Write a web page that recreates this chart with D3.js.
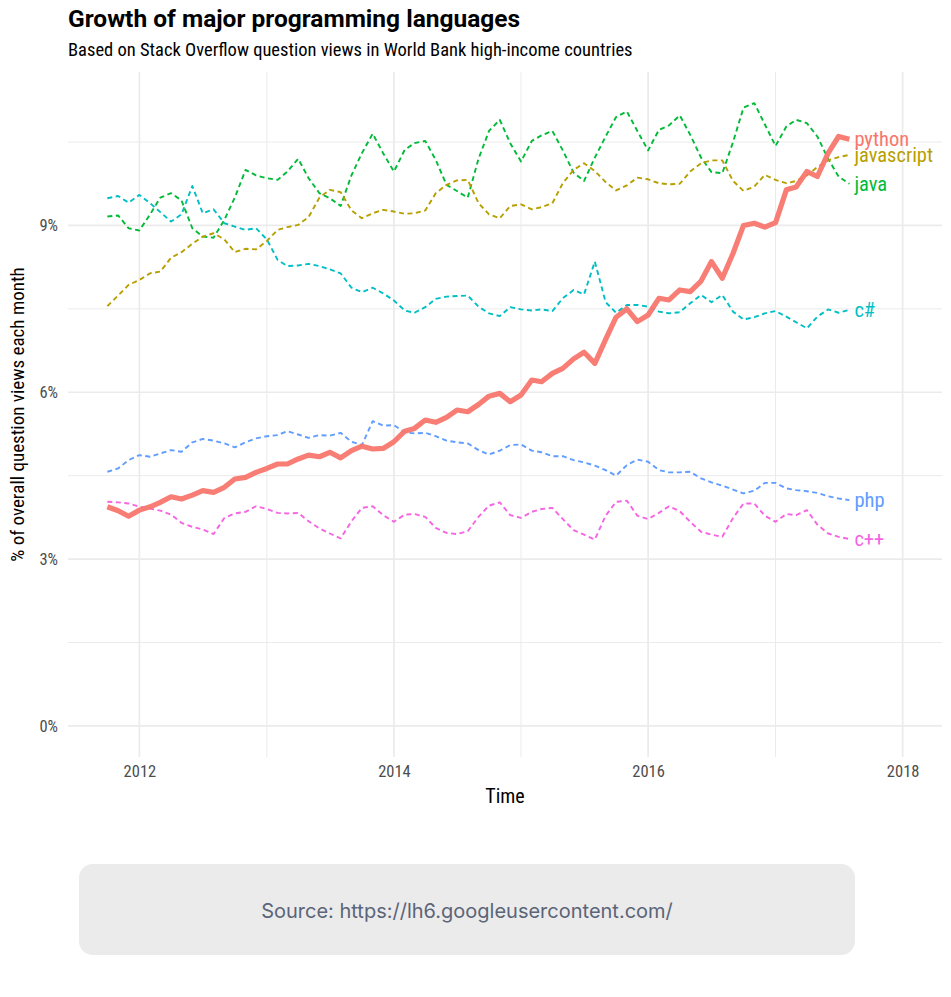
<!DOCTYPE html>
<html>
<head>
<meta charset="utf-8">
<script src="https://cdn.jsdelivr.net/npm/d3@7"></script>
<style>
  html, body { margin: 0; padding: 0; background: #ffffff; }
  svg { display: block; }
  .cond { font-family: "Roboto Condensed", "Liberation Sans Narrow", "DejaVu Sans Condensed", Roboto, sans-serif; font-stretch: condensed; }
</style>
</head>
<body>
<svg id="chart" width="951" height="997"></svg>
<script>
// ---------- data ----------
const startMonth = "2011-10-01";
const languages = ["c#", "c++", "java", "javascript", "php", "python"];
const colors = ["#00BFC4", "#F564E3", "#00BA38", "#B79F00", "#619CFF", "#F8766D"];

const python = [3.94,3.87,3.77,3.88,3.94,4.02,4.12,4.08,4.15,4.23,4.20,4.29,4.44,4.47,4.56,4.63,4.71,4.71,4.80,4.87,4.84,4.92,4.82,4.95,5.03,
  4.98,4.99,5.11,5.30,5.35,5.50,5.46,5.55,5.68,5.65,5.78,5.93,5.98,5.83,5.95,6.22,6.19,6.34,6.43,6.60,6.72,6.52,6.95,7.35,7.50,7.27,
  7.39,7.69,7.66,7.84,7.81,8.00,8.35,8.05,8.50,9.00,9.04,8.97,9.05,9.64,9.69,9.97,9.88,10.30,10.60,10.55];
const javascript = [7.55,7.74,7.93,8.02,8.14,8.17,8.42,8.52,8.67,8.80,8.86,8.75,8.52,8.58,8.57,8.72,8.92,8.97,9.01,9.15,9.50,9.64,9.60,9.27,9.13,
  9.22,9.28,9.25,9.21,9.22,9.27,9.58,9.73,9.81,9.82,9.40,9.20,9.13,9.35,9.38,9.29,9.33,9.40,9.76,10.00,10.12,9.98,9.78,9.63,9.72,9.86,
  9.83,9.76,9.74,9.75,9.97,10.12,10.17,10.17,9.80,9.62,9.70,9.91,9.82,9.76,9.80,9.90,10.05,10.17,10.23,10.27];
const java = [9.16,9.18,8.95,8.91,9.20,9.50,9.58,9.45,8.95,8.80,8.78,9.10,9.50,10.00,9.90,9.85,9.82,9.97,10.20,9.85,9.58,9.49,9.35,9.90,10.30,
  10.65,10.30,9.97,10.36,10.48,10.52,10.18,9.73,9.62,9.50,10.20,10.70,10.90,10.48,10.15,10.52,10.62,10.70,10.35,9.95,9.80,10.22,10.60,10.95,11.05,10.70,
  10.35,10.72,10.80,10.98,10.63,10.22,9.96,9.94,10.50,11.12,11.20,10.82,10.43,10.78,10.90,10.84,10.60,10.20,9.88,9.75];
const csharp = [9.49,9.53,9.41,9.55,9.40,9.24,9.07,9.20,9.71,9.22,9.29,9.04,8.98,8.92,8.95,8.75,8.38,8.27,8.28,8.31,8.27,8.21,8.14,7.88,7.80,
  7.88,7.78,7.65,7.47,7.43,7.53,7.68,7.72,7.73,7.74,7.54,7.42,7.37,7.53,7.49,7.47,7.49,7.46,7.69,7.84,7.76,8.35,7.62,7.43,7.57,7.57,
  7.54,7.45,7.42,7.44,7.60,7.75,7.62,7.75,7.45,7.31,7.35,7.42,7.46,7.36,7.26,7.15,7.36,7.49,7.43,7.48];
const php = [4.57,4.63,4.78,4.87,4.84,4.90,4.96,4.93,5.10,5.16,5.13,5.08,5.01,5.10,5.17,5.21,5.23,5.30,5.24,5.18,5.23,5.22,5.27,5.11,5.05,
  5.48,5.40,5.41,5.28,5.26,5.27,5.21,5.13,5.10,5.08,4.96,4.88,4.95,5.05,5.06,4.95,4.92,4.85,4.85,4.78,4.74,4.68,4.60,4.50,4.69,4.79,
  4.75,4.60,4.56,4.56,4.57,4.45,4.38,4.32,4.25,4.18,4.23,4.37,4.37,4.27,4.24,4.22,4.19,4.13,4.09,4.06];
const cpp = [4.03,4.02,4.00,3.94,3.91,3.87,3.80,3.65,3.58,3.53,3.45,3.74,3.82,3.85,3.95,3.90,3.83,3.82,3.83,3.68,3.55,3.46,3.37,3.68,3.92,
  3.95,3.79,3.67,3.80,3.81,3.76,3.56,3.47,3.45,3.50,3.76,3.96,4.02,3.79,3.74,3.85,3.90,3.92,3.72,3.52,3.44,3.35,3.78,4.03,4.05,3.78,
  3.72,3.83,3.95,3.86,3.67,3.49,3.44,3.40,3.74,4.00,4.00,3.78,3.67,3.81,3.79,3.88,3.62,3.46,3.40,3.36];

const seriesValues = { "c#": csharp, "c++": cpp, "java": java, "javascript": javascript, "php": php, "python": python };

const yMajorTicks = [0, 3, 6, 9];
const yMinorTicks = [1.5, 4.5, 7.5, 10.5];
const xMajorYears = [2012, 2014, 2016, 2018];
const xMinorYears = [2013, 2015, 2017];

const titleText = "Growth of major programming languages";
const subtitleText = "Based on Stack Overflow question views in World Bank high-income countries";
const xTitle = "Time";
const yTitle = "% of overall question views each month";
const sourceText = "Source: https://lh6.googleusercontent.com/";

// ---------- layout ----------
const svg = d3.select("#chart");
const panel = { left: 68, right: 942, top: 72, bottom: 757 };

const parse = d3.timeParse("%Y-%m-%d");
const months = d3.timeMonth.range(parse(startMonth), d3.timeMonth.offset(parse(startMonth), python.length));

const x = d3.scaleTime()
  .domain([new Date(2011, 5, 10), new Date(2018, 3, 24)])
  .range([panel.left, panel.right]);
const y = d3.scaleLinear()
  .domain([-0.56, 11.76])
  .range([panel.bottom, panel.top]);

// grid
const grid = svg.append("g");
grid.selectAll(".yminor").data(yMinorTicks).enter().append("line")
  .attr("x1", panel.left).attr("x2", panel.right)
  .attr("y1", d => y(d)).attr("y2", d => y(d))
  .attr("stroke", "#ebebeb").attr("stroke-width", 1);
grid.selectAll(".xminor").data(xMinorYears).enter().append("line")
  .attr("x1", d => x(new Date(d, 0, 1))).attr("x2", d => x(new Date(d, 0, 1)))
  .attr("y1", panel.top).attr("y2", panel.bottom)
  .attr("stroke", "#ebebeb").attr("stroke-width", 1);
grid.selectAll(".ymajor").data(yMajorTicks).enter().append("line")
  .attr("x1", panel.left).attr("x2", panel.right)
  .attr("y1", d => y(d)).attr("y2", d => y(d))
  .attr("stroke", "#ebebeb").attr("stroke-width", 1.7);
grid.selectAll(".xmajor").data(xMajorYears).enter().append("line")
  .attr("x1", d => x(new Date(d, 0, 1))).attr("x2", d => x(new Date(d, 0, 1)))
  .attr("y1", panel.top).attr("y2", panel.bottom)
  .attr("stroke", "#ebebeb").attr("stroke-width", 1.7);

// axes (labels only)
const yAxis = d3.axisLeft(y).tickValues(yMajorTicks).tickFormat(d => d + "%").tickSize(0).tickPadding(10);
const gy = svg.append("g").attr("transform", `translate(${panel.left},0)`).call(yAxis);
gy.select(".domain").remove();
gy.selectAll("text").attr("class", "cond").attr("font-size", 16.5).attr("fill", "#4d4d4d");

const xAxis = d3.axisBottom(x).tickValues(xMajorYears.map(d => new Date(d, 0, 1))).tickFormat(d3.timeFormat("%Y")).tickSize(0).tickPadding(8);
const gx = svg.append("g").attr("transform", `translate(0,${panel.bottom})`).call(xAxis);
gx.select(".domain").remove();
gx.selectAll("text").attr("class", "cond").attr("font-size", 16.5).attr("fill", "#4d4d4d");

// lines
const line = d3.line().x((d, i) => x(months[i])).y(d => y(d));
languages.forEach((lang, k) => {
  const isPy = lang === "python";
  svg.append("path")
    .datum(seriesValues[lang])
    .attr("d", line)
    .attr("fill", "none")
    .attr("stroke", colors[k])
    .attr("stroke-width", isPy ? 5.2 : 1.9)
    .attr("stroke-dasharray", isPy ? null : "5,3.5")
    .attr("stroke-linejoin", "round")
    .attr("opacity", isPy ? 0.95 : 1);
});

// end labels
languages.forEach((lang, k) => {
  const vals = seriesValues[lang];
  svg.append("text")
    .attr("class", "cond")
    .attr("x", x(months[vals.length - 1]) + 5)
    .attr("y", y(vals[vals.length - 1]))
    .attr("dy", "0.35em")
    .attr("font-size", 20.5)
    .attr("fill", colors[k])
    .text(lang);
});

// titles
svg.append("text").attr("x", 68).attr("y", 27)
  .attr("font-family", "Roboto, sans-serif").attr("font-weight", 700).attr("font-size", 24.5)
  .attr("fill", "#000").text(titleText);
svg.append("text").attr("class", "cond").attr("x", 68).attr("y", 56)
  .attr("font-size", 18.5).attr("fill", "#000").text(subtitleText);

svg.append("text").attr("class", "cond")
  .attr("x", (panel.left + panel.right) / 2).attr("y", 803)
  .attr("text-anchor", "middle").attr("font-size", 20).attr("fill", "#000").text(xTitle);
svg.append("text").attr("class", "cond")
  .attr("transform", `translate(24,${(panel.top + panel.bottom) / 2}) rotate(-90)`)
  .attr("text-anchor", "middle").attr("font-size", 19).attr("fill", "#000").text(yTitle);

// source box
svg.append("rect").attr("x", 79).attr("y", 864).attr("width", 776).attr("height", 91)
  .attr("rx", 14).attr("ry", 14).attr("fill", "#ebebeb");
svg.append("text").attr("x", 467).attr("y", 918)
  .attr("text-anchor", "middle").attr("font-family", "Inter, Roboto, sans-serif")
  .attr("font-size", 20).attr("fill", "#5b6478").text(sourceText);
</script>
</body>
</html>
